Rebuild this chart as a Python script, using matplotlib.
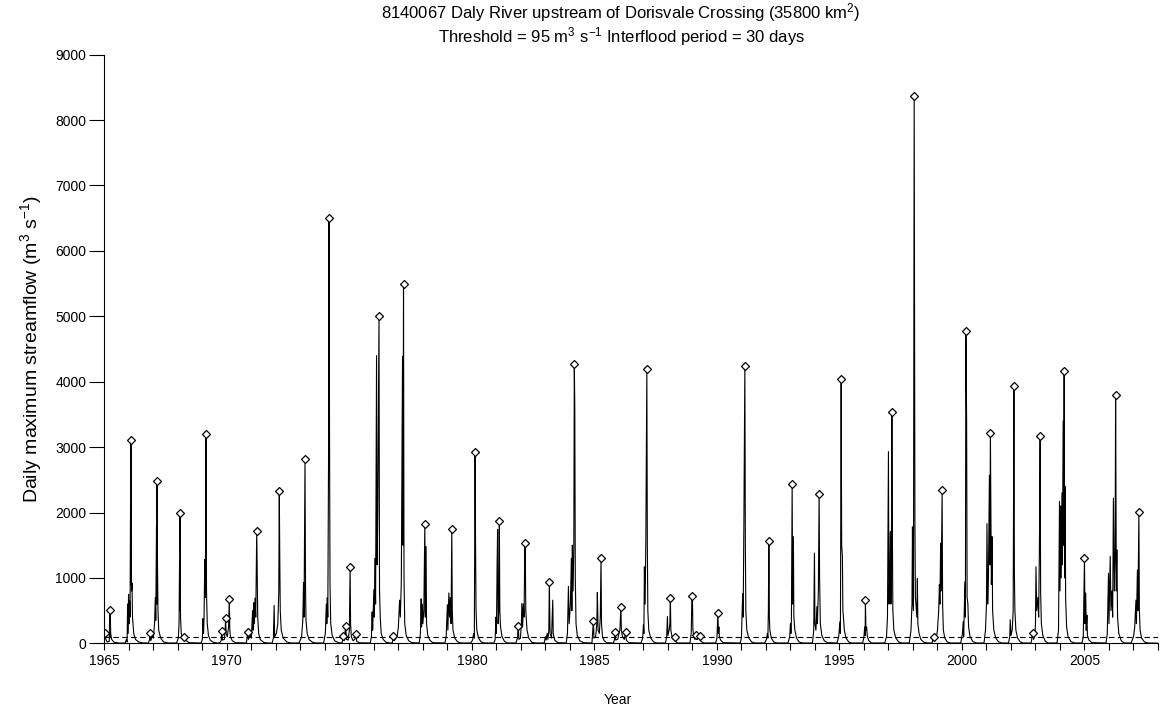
import numpy as np
import matplotlib
matplotlib.use('Agg')
import matplotlib.pyplot as plt
from matplotlib.ticker import MultipleLocator

plt.rcParams['font.family'] = ['Liberation Sans', 'DejaVu Sans']
plt.rcParams['mathtext.default'] = 'regular'

# picos identificados (marcadores en diamante)
peak_year = [1965.03, 1965.24, 1966.09, 1966.87, 1967.15, 1968.09, 1968.25, 1969.15,
             1969.79, 1969.95, 1970.10, 1970.85, 1971.22, 1972.14, 1973.19, 1974.17,
             1974.76, 1974.85, 1975.03, 1975.27, 1976.21, 1976.80, 1977.21, 1978.08,
             1979.18, 1980.13, 1981.12, 1981.89, 1982.16, 1983.16, 1984.18, 1984.96,
             1985.27, 1985.84, 1986.08, 1986.28, 1987.14, 1988.10, 1988.27, 1988.98,
             1989.15, 1989.29, 1990.04, 1991.14, 1992.12, 1993.07, 1994.17, 1995.07,
             1996.06, 1997.14, 1998.05, 1998.84, 1999.19, 2000.16, 2001.16, 2002.12,
             2002.89, 2003.19, 2004.17, 2005.00, 2006.27, 2007.22]
peak_flow = [162, 509, 3108, 153, 2482, 1997, 101, 3196,
             193, 382, 672, 168, 1712, 2334, 2813, 6508,
             111, 270, 1171, 137, 5009, 112, 5494, 1824,
             1753, 2920, 1875, 265, 1529, 942, 4271, 341,
             1300, 168, 550, 177, 4194, 688, 101, 728,
             127, 116, 468, 4245, 1564, 2431, 2287, 4041,
             662, 3532, 8369, 101, 2339, 4775, 3211, 3939,
             153, 3170, 4168, 1300, 3792, 2008]

# resto del hidrograma diario (temporada por temporada)
flow_year = [
    1965.00, 1965.06, 1965.12, 1965.20, 1965.22, 1965.23, 1965.26, 1965.30, 1965.40, 1965.60,
    1965.85, 1965.90, 1965.93, 1965.95, 1965.96, 1965.99, 1966.01, 1966.03, 1966.05, 1966.07, 1966.08, 1966.11, 1966.13, 1966.15, 1966.20, 1966.27, 1966.40, 1966.60,
    1966.80, 1966.85, 1966.90, 1966.95, 1967.00, 1967.05, 1967.08, 1967.10, 1967.13, 1967.14, 1967.17, 1967.19, 1967.22, 1967.30, 1967.42, 1967.60,
    1967.95, 1968.02, 1968.05, 1968.07, 1968.08, 1968.11, 1968.14, 1968.20, 1968.28, 1968.35, 1968.45,
    1968.95, 1969.00, 1969.03, 1969.05, 1969.07, 1969.10, 1969.12, 1969.13, 1969.17, 1969.20, 1969.25, 1969.32, 1969.45, 1969.60,
    1969.70, 1969.77, 1969.82, 1969.90, 1969.93, 1969.97, 1970.02, 1970.07, 1970.12, 1970.15, 1970.22, 1970.35,
    1970.80, 1970.88, 1970.95, 1971.00, 1971.05, 1971.07, 1971.10, 1971.12, 1971.15, 1971.18, 1971.24, 1971.26, 1971.30, 1971.36, 1971.50, 1971.65,
    1971.85, 1971.90, 1971.93, 1971.95, 1972.02, 1972.08, 1972.12, 1972.16, 1972.18, 1972.22, 1972.30, 1972.45, 1972.60,
    1972.95, 1973.05, 1973.10, 1973.13, 1973.15, 1973.21, 1973.23, 1973.28, 1973.35, 1973.50, 1973.65,
    1973.95, 1974.02, 1974.06, 1974.08, 1974.10, 1974.12, 1974.15, 1974.19, 1974.21, 1974.24, 1974.30, 1974.40, 1974.55,
    1974.70, 1974.79, 1974.88, 1974.95, 1975.00, 1975.05, 1975.08, 1975.15, 1975.22, 1975.30, 1975.40,
    1975.85, 1975.90, 1975.93, 1975.95, 1976.00, 1976.02, 1976.04, 1976.07, 1976.11, 1976.13, 1976.16, 1976.23, 1976.26, 1976.30, 1976.38, 1976.50, 1976.65,
    1976.75, 1976.83, 1976.95, 1977.00, 1977.05, 1977.08, 1977.12, 1977.17, 1977.19, 1977.23, 1977.26, 1977.32, 1977.42, 1977.55,
    1977.85, 1977.90, 1977.93, 1977.95, 1977.98, 1978.00, 1978.04, 1978.10, 1978.13, 1978.15, 1978.20, 1978.28, 1978.40,
    1978.90, 1978.95, 1979.00, 1979.02, 1979.06, 1979.09, 1979.12, 1979.15, 1979.20, 1979.23, 1979.30, 1979.42, 1979.55,
    1979.95, 1980.03, 1980.07, 1980.10, 1980.12, 1980.15, 1980.17, 1980.20, 1980.27, 1980.38, 1980.50,
    1980.90, 1980.95, 1980.98, 1981.00, 1981.03, 1981.05, 1981.07, 1981.10, 1981.14, 1981.17, 1981.23, 1981.33, 1981.45,
    1981.80, 1981.86, 1981.92, 1981.98, 1982.02, 1982.04, 1982.07, 1982.10, 1982.13, 1982.18, 1982.20, 1982.25, 1982.32, 1982.45, 1982.60,
    1982.95, 1983.00, 1983.03, 1983.07, 1983.10, 1983.14, 1983.19, 1983.25, 1983.30, 1983.32, 1983.38, 1983.50,
    1983.85, 1983.90, 1983.94, 1983.97, 1984.02, 1984.06, 1984.08, 1984.10, 1984.13, 1984.16, 1984.20, 1984.22, 1984.25, 1984.30, 1984.40, 1984.55,
    1984.90, 1984.98, 1985.05, 1985.10, 1985.12, 1985.15, 1985.20, 1985.24, 1985.29, 1985.33, 1985.40, 1985.50,
    1985.78, 1985.82, 1985.87, 1985.95, 1986.00, 1986.04, 1986.10, 1986.15, 1986.22, 1986.30, 1986.40,
    1986.90, 1986.97, 1987.00, 1987.02, 1987.04, 1987.07, 1987.10, 1987.16, 1987.18, 1987.22, 1987.30, 1987.42, 1987.55,
    1987.90, 1987.95, 1987.98, 1988.00, 1988.05, 1988.08, 1988.12, 1988.18, 1988.22, 1988.30, 1988.40,
    1988.90, 1988.95, 1989.00, 1989.02, 1989.06, 1989.10, 1989.20, 1989.32, 1989.45,
    1989.95, 1990.00, 1990.06, 1990.08, 1990.10, 1990.15, 1990.25,
    1990.95, 1991.00, 1991.05, 1991.07, 1991.10, 1991.16, 1991.18, 1991.22, 1991.30, 1991.42, 1991.55,
    1991.95, 1992.02, 1992.06, 1992.08, 1992.10, 1992.14, 1992.16, 1992.22, 1992.32, 1992.45,
    1992.90, 1992.97, 1993.00, 1993.02, 1993.04, 1993.09, 1993.12, 1993.14, 1993.18, 1993.25, 1993.35, 1993.50,
    1993.90, 1993.95, 1993.98, 1994.00, 1994.04, 1994.08, 1994.10, 1994.14, 1994.19, 1994.22, 1994.28, 1994.38, 1994.50,
    1994.90, 1994.97, 1995.02, 1995.04, 1995.09, 1995.12, 1995.14, 1995.16, 1995.20, 1995.27, 1995.38, 1995.50,
    1995.95, 1996.00, 1996.03, 1996.05, 1996.08, 1996.11, 1996.14, 1996.20, 1996.30,
    1996.85, 1996.92, 1996.96, 1997.00, 1997.02, 1997.05, 1997.08, 1997.10, 1997.12, 1997.16, 1997.18, 1997.22, 1997.30, 1997.42, 1997.55,
    1997.85, 1997.92, 1997.96, 1997.98, 1998.00, 1998.02, 1998.08, 1998.10, 1998.13, 1998.16, 1998.18, 1998.20, 1998.25, 1998.32, 1998.45, 1998.60,
    1998.78, 1998.88, 1998.95, 1999.00, 1999.05, 1999.08, 1999.10, 1999.13, 1999.15, 1999.21, 1999.24, 1999.30, 1999.40, 1999.52,
    1999.95, 2000.02, 2000.05, 2000.07, 2000.12, 2000.14, 2000.19, 2000.21, 2000.24, 2000.27, 2000.33, 2000.45, 2000.60,
    2000.90, 2000.96, 2001.00, 2001.02, 2001.05, 2001.08, 2001.12, 2001.14, 2001.20, 2001.23, 2001.25, 2001.30, 2001.38, 2001.50, 2001.62,
    2001.90, 2001.95, 2001.97, 2002.00, 2002.05, 2002.09, 2002.14, 2002.16, 2002.20, 2002.27, 2002.38, 2002.50,
    2002.82, 2002.92, 2002.97, 2003.00, 2003.02, 2003.05, 2003.10, 2003.13, 2003.16, 2003.21, 2003.24, 2003.30, 2003.40, 2003.52,
    2003.88, 2003.94, 2003.98, 2004.00, 2004.03, 2004.05, 2004.08, 2004.10, 2004.13, 2004.15, 2004.19, 2004.21, 2004.23, 2004.27, 2004.33, 2004.45, 2004.60,
    2004.90, 2004.95, 2005.02, 2005.05, 2005.07, 2005.10, 2005.12, 2005.18, 2005.30,
    2005.88, 2005.93, 2005.98, 2006.00, 2006.05, 2006.08, 2006.12, 2006.15, 2006.18, 2006.22, 2006.25, 2006.30, 2006.32, 2006.35, 2006.40, 2006.50, 2006.62,
    2006.90, 2007.00, 2007.05, 2007.10, 2007.12, 2007.16, 2007.18, 2007.24, 2007.27, 2007.33, 2007.45, 2007.60, 2008.00,
]
flow_q = [
    150, 60, 20, 30, 480, 80, 150, 60, 15, 3,
    5, 60, 20, 600, 150, 750, 300, 650, 400, 2140, 900, 800, 920, 400, 150, 60, 20, 5,
    5, 60, 40, 120, 80, 300, 700, 350, 1800, 600, 1200, 500, 200, 80, 20, 5,
    5, 80, 300, 1250, 500, 400, 150, 60, 50, 40, 10,
    5, 60, 380, 150, 400, 1280, 700, 1300, 800, 300, 120, 50, 15, 5,
    5, 40, 50, 60, 200, 150, 100, 250, 200, 100, 40, 10,
    5, 60, 120, 80, 500, 200, 620, 300, 690, 400, 1000, 400, 150, 60, 15, 5,
    5, 80, 580, 100, 150, 300, 800, 1290, 500, 200, 80, 20, 5,
    5, 100, 350, 930, 400, 900, 350, 150, 60, 15, 5,
    5, 150, 600, 300, 700, 400, 2750, 3300, 900, 300, 120, 40, 10,
    5, 40, 60, 50, 200, 300, 100, 40, 60, 30, 8,
    5, 100, 480, 200, 820, 400, 1300, 600, 4400, 1200, 2000, 830, 400, 150, 60, 15, 5,
    5, 40, 100, 250, 660, 400, 940, 4390, 1500, 1000, 300, 120, 40, 10,
    5, 150, 680, 250, 600, 300, 500, 400, 1480, 300, 120, 50, 10,
    5, 100, 590, 200, 770, 400, 700, 300, 500, 200, 80, 20, 5,
    5, 50, 150, 80, 2090, 1500, 500, 200, 80, 20, 5,
    5, 60, 400, 150, 1200, 1740, 300, 500, 500, 250, 100, 30, 5,
    5, 80, 60, 80, 300, 610, 250, 600, 400, 1380, 500, 200, 80, 15, 5,
    5, 100, 50, 150, 60, 200, 150, 80, 660, 150, 50, 10,
    5, 150, 870, 300, 600, 1300, 500, 1500, 800, 1500, 3600, 1000, 300, 120, 40, 10,
    5, 80, 100, 300, 775, 200, 150, 400, 300, 100, 40, 10,
    5, 60, 50, 60, 150, 200, 200, 100, 60, 50, 10,
    5, 80, 280, 150, 1170, 600, 1630, 1500, 500, 200, 80, 20, 5,
    5, 100, 410, 120, 200, 300, 200, 80, 60, 30, 5,
    5, 150, 700, 200, 100, 60, 60, 40, 5,
    5, 80, 150, 250, 100, 50, 10,
    5, 80, 760, 400, 1800, 1500, 500, 200, 80, 20, 5,
    5, 60, 150, 80, 500, 400, 200, 80, 20, 5,
    5, 100, 300, 150, 360, 600, 1630, 400, 200, 80, 20, 5,
    5, 200, 1380, 300, 200, 560, 300, 800, 1000, 300, 120, 40, 10,
    5, 100, 330, 150, 1500, 1330, 500, 410, 200, 80, 20, 5,
    5, 100, 250, 120, 200, 250, 100, 40, 5,
    5, 100, 400, 2930, 600, 1000, 1710, 600, 1200, 1700, 500, 200, 80, 20, 5,
    5, 200, 600, 1780, 700, 500, 1800, 700, 550, 400, 990, 300, 150, 60, 15, 5,
    5, 40, 80, 200, 500, 900, 600, 1530, 800, 600, 200, 80, 20, 5,
    5, 150, 330, 100, 940, 400, 3390, 700, 610, 250, 100, 25, 5,
    5, 200, 600, 1830, 600, 1000, 2570, 1200, 900, 1630, 500, 200, 80, 20, 5,
    5, 100, 360, 120, 200, 500, 1040, 500, 200, 80, 20, 5,
    5, 60, 100, 300, 1170, 500, 700, 400, 1430, 800, 300, 120, 30, 5,
    5, 200, 2170, 800, 2100, 1000, 2300, 1200, 3400, 1500, 1000, 2400, 700, 250, 100, 25, 5,
    5, 100, 300, 770, 200, 430, 120, 50, 10,
    5, 150, 1070, 300, 1330, 500, 800, 400, 2220, 800, 1300, 800, 1430, 400, 150, 40, 5,
    5, 100, 250, 660, 300, 1120, 500, 500, 200, 80, 20, 5, 2,
]
threshold = 95

assert len(flow_year) == len(flow_q)

t = np.concatenate([flow_year, peak_year])
q = np.concatenate([flow_q, peak_flow])
orden = np.argsort(t, kind='stable')

fig = plt.figure(figsize=(11.63, 7.11), dpi=100)
ax = fig.add_axes([0.0897, 0.0952, 0.9060, 0.8279])

ax.plot(t[orden], q[orden], color='black', lw=0.8)
ax.axhline(threshold, color='black', lw=0.8, ls=(0, (5, 3)))
ax.plot(peak_year, peak_flow, 'D', markersize=4.3, markerfacecolor='white',
        markeredgecolor='black', markeredgewidth=0.9)

ax.set_xlim(1965, 2008)
ax.set_ylim(0, 9000)
ax.xaxis.set_major_locator(MultipleLocator(5))
ax.xaxis.set_minor_locator(MultipleLocator(1))
ax.yaxis.set_major_locator(MultipleLocator(1000))
ax.tick_params(axis='x', which='both', direction='out', length=5, width=0.8, labelsize=10, pad=3)
ax.tick_params(axis='y', which='major', direction='out', length=11, width=0.8, labelsize=10, pad=2)
for lado in ['top', 'right']:
    ax.spines[lado].set_visible(False)
for lado in ['left', 'bottom']:
    ax.spines[lado].set_linewidth(0.8)

fig.text(0.531, 0.005, 'Year', ha='center', va='bottom', fontsize=10)
ax.set_ylabel(r'Daily maximum streamflow (m$^3$ s$^{-1}$)', fontsize=14, labelpad=8)
fig.text(0.534, 0.998,
         '8140067 Daly River upstream of Dorisvale Crossing (35800 km$^2$)\n'
         'Threshold = 95 m$^3$ s$^{-1}$ Interflood period = 30 days',
         ha='center', va='top', fontsize=12, linespacing=1.05, multialignment='center')

fig.savefig('out.png', dpi=100)
